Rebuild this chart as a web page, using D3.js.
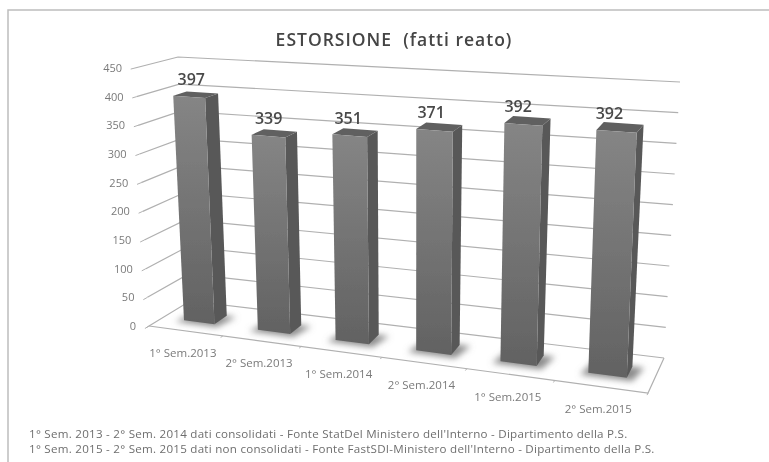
<!DOCTYPE html>
<html>
<head>
<meta charset="utf-8">
<script src="https://cdn.jsdelivr.net/npm/d3@7"></script>
<style>
html, body { margin: 0; padding: 0; background: #fff; }
text { font-family: "Open Sans", "Noto Sans", sans-serif; white-space: pre; }
</style>
</head>
<body>
<div class="canvas"></div>
<script>
// Data
const categories = ['1° Sem.2013', '2° Sem.2013', '1° Sem.2014', '2° Sem.2014', '1° Sem.2015', '2° Sem.2015'];
const values = [397, 339, 351, 371, 392, 392];
const ticks = [0, 50, 100, 150, 200, 250, 300, 350, 400, 450];
const notes = [
    "1° Sem. 2013 - 2° Sem. 2014 dati consolidati - Fonte StatDel Ministero dell'Interno - Dipartimento della P.S.",
    "1° Sem. 2015 - 2° Sem. 2015 dati non consolidati - Fonte FastSDI-Ministero dell'Interno - Dipartimento della P.S."
];

const width = 769, height = 462;

const svg = d3.select('.canvas')
    .append('svg')
    .attr('width', width)
    .attr('height', height);

const defs = svg.append('defs');
defs.append('filter').attr('id', 'soft')
    .attr('x', '-50%').attr('y', '-50%').attr('width', '200%').attr('height', '200%')
    .append('feGaussianBlur').attr('stdDeviation', 3);
defs.append('filter').attr('id', 'scan')
    .attr('filterUnits', 'userSpaceOnUse')
    .attr('x', 0).attr('y', 0).attr('width', width).attr('height', height)
    .append('feGaussianBlur').attr('stdDeviation', 0.5);
const grad = defs.append('linearGradient').attr('id', 'front')
    .attr('x1', 0).attr('x2', 0).attr('y1', 0).attr('y2', 1);
grad.append('stop').attr('offset', '0%').attr('stop-color', '#858585');
grad.append('stop').attr('offset', '100%').attr('stop-color', '#626262');

// Corners of the 3d box on screen
const fl = d3.scaleLinear().domain([0, 450]).range([[149, 326], [135, 68]]);
const bl = d3.scaleLinear().domain([0, 450]).range([[190, 301], [178, 57]]);
const br = d3.scaleLinear().domain([0, 450]).range([[664, 358], [680, 82]]);
const fr = d3.scaleLinear().domain([0, 450]).range([[648, 393], [659, 107]]);

// perspective squeeze along the category axis, from the tick marks
const warp = d3.scaleLinear()
    .domain(d3.range(7).map(i => i / 6))
    .range([0, 0.148, 0.305, 0.467, 0.637, 0.813, 1]);
const band = d3.scaleBand().domain(categories).range([0, 1]).paddingInner(0.58).paddingOuter(0.29);
const labelShift = d3.scaleLinear().domain([0, 1]).range([3, -8]);

// u along categories, w front to back, v value
function project(u, w, v) {
    const t = warp(u);
    const front = d3.interpolate(fl(v), fr(v))(t);
    const back = d3.interpolate(bl(v), br(v))(t);
    return d3.interpolate(front, back)(w);
}

const line = d3.line();
const chart = svg.append('g').attr('filter', 'url(#scan)');

// frame
chart.append('rect')
    .attr('x', 8).attr('y', 10).attr('width', 790).attr('height', 480)
    .attr('fill', 'none').attr('stroke', '#bdbdbd').attr('stroke-width', 1.5);

chart.append('text')
    .attr('x', 394).attr('y', 46)
    .attr('text-anchor', 'middle')
    .attr('font-size', 17.5)
    .attr('font-weight', 600)
    .attr('letter-spacing', 1)
    .attr('fill', '#444')
    .text('ESTORSIONE  (fatti reato)');

// gridlines on the back wall and on the side wall
chart.append('g').selectAll('path')
    .data(ticks)
    .join('path')
    .attr('d', d => line([fl(d), bl(d), br(d)]))
    .attr('fill', 'none')
    .attr('stroke', '#b0b0b0')
    .attr('stroke-width', 1.2);

// box edges
const edges = [
    [fl(0), fl(450)],
    [bl(0), bl(450)],
    [fl(0), fr(0), br(0)]
];
chart.append('g').selectAll('path')
    .data(edges)
    .join('path')
    .attr('d', d => line(d))
    .attr('fill', 'none')
    .attr('stroke', '#b0b0b0')
    .attr('stroke-width', 1.2);

// y ticks
chart.append('g').selectAll('path')
    .data(ticks)
    .join('path')
    .attr('d', d => line([fl(d), project(0, -0.1, d)]))
    .attr('stroke', '#b0b0b0');

chart.append('g').selectAll('text')
    .data(ticks)
    .join('text')
    .attr('x', d => fl(d)[0] - 13)
    .attr('y', d => fl(d)[1] + 4)
    .attr('text-anchor', 'end')
    .attr('font-size', 11)
    .attr('fill', '#7a7a7a')
    .text(d => d);

// x ticks and labels
const tickAt = d3.range(categories.length + 1).map(i => i / categories.length);
chart.append('g').selectAll('path')
    .data(tickAt)
    .join('path')
    .attr('d', d => line([project(d, 0, 0), project(d, -0.06, 0)]))
    .attr('stroke', '#b0b0b0');

chart.append('g').selectAll('text')
    .data(categories)
    .join('text')
    .attr('x', d => project(band(d) + band.bandwidth() / 2, 0, 0)[0] - 3)
    .attr('y', d => project(band(d) + band.bandwidth() / 2, 0, 0)[1] + 26)
    .attr('text-anchor', 'middle')
    .attr('font-size', 11.5)
    .attr('fill', '#7a7a7a')
    .text(d => d);

// bars
const w0 = 0.34, w1 = 0.66;
const bars = chart.append('g').selectAll('g')
    .data(categories.map((c, i) => ({ c, v: values[i] })))
    .join('g');

bars.append('path')
    .attr('d', d => {
        const a = band(d.c) - 0.012, b = a + band.bandwidth() + 0.024;
        return line([project(a, w0 - 0.08, 0), project(b, w0 - 0.08, 0), project(b + 0.01, w1, 0), project(a + 0.01, w1, 0)]) + 'Z';
    })
    .attr('fill', '#8c8c8c')
    .attr('filter', 'url(#soft)');

bars.append('path')
    .attr('d', d => {
        const b = band(d.c) + band.bandwidth();
        return line([project(b, w0, 0), project(b, w1, 0), project(b, w1, d.v), project(b, w0, d.v)]) + 'Z';
    })
    .attr('fill', '#595959');

bars.append('path')
    .attr('d', d => {
        const a = band(d.c), b = a + band.bandwidth();
        return line([project(a, w0, d.v), project(b, w0, d.v), project(b, w1, d.v), project(a, w1, d.v)]) + 'Z';
    })
    .attr('fill', '#606060');

bars.append('path')
    .attr('d', d => {
        const a = band(d.c), b = a + band.bandwidth();
        return line([project(a, w0, 0), project(b, w0, 0), project(b, w0, d.v), project(a, w0, d.v)]) + 'Z';
    })
    .attr('fill', 'url(#front)');

bars.append('text')
    .attr('x', d => {
        const u = band(d.c) + band.bandwidth() / 2;
        return project(u, w0, d.v)[0] + labelShift(u);
    })
    .attr('y', d => project(band(d.c) + band.bandwidth() / 2, w0, d.v)[1] - 12)
    .attr('text-anchor', 'middle')
    .attr('font-size', 16)
    .attr('font-weight', 600)
    .attr('fill', '#4a4a4a')
    .text(d => d.v);

// footnotes
chart.append('g').selectAll('text')
    .data(notes)
    .join('text')
    .attr('x', 29)
    .attr('y', (d, i) => 438 + i * 15)
    .attr('font-size', 11.6)
    .attr('letter-spacing', 0.25)
    .attr('fill', '#6e6e6e')
    .text(d => d);
</script>
</body>
</html>
